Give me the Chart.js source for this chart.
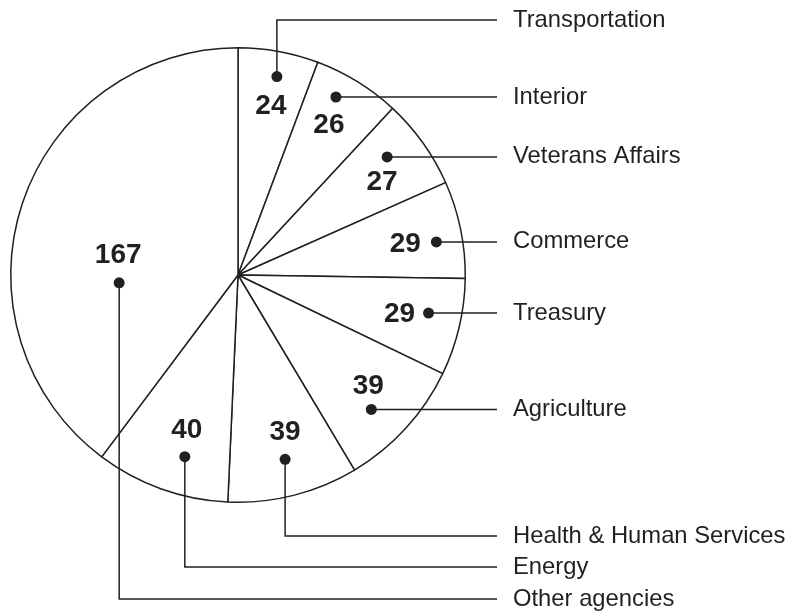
<!DOCTYPE html>
<html>
<head>
<meta charset="utf-8">
<script src="https://cdn.jsdelivr.net/npm/chart.js@4.4.0/dist/chart.umd.min.js"></script>
<style>
  html, body { margin: 0; padding: 0; background: #fff; }
</style>
</head>
<body>
<canvas id="chart" width="791" height="613"></canvas>
<script>
const agencies = [
  'Transportation', 'Interior', 'Veterans Affairs', 'Commerce', 'Treasury',
  'Agriculture', 'Health & Human Services', 'Energy', 'Other agencies'
];
const values = [24, 26, 27, 29, 29, 39, 39, 40, 167];

// callout layout: dot distance (fraction of radius), angle nudge in degrees,
// value text offset from the dot, and label row (null = same height as dot)
const dotRadius = [0.89, 0.894, 0.837, 0.885, 0.855, 0.833, 0.837, 0.833, 0.524];
const dotNudge = [0.8, -2.9, -2.8, 2.1, -2.0, 2.8, -0.2, -3.4, -22.2];
const valueDx = [-6, -7, -5, -31, -29, -3, 0, 2, -1];
const valueDy = [30, 28, 25, 2, 1, -23, -27, -26, -28];
const labelRow = [20, null, null, null, null, null, 536, 567, 599];

const ink = '#231f20';
const leaderEnd = 497;
const labelX = 513;

const callouts = {
  id: 'callouts',
  afterDatasetsDraw(chart) {
    const ctx = chart.ctx;
    const arcs = chart.getDatasetMeta(0).data;
    ctx.save();
    arcs.forEach((arc, i) => {
      const { x, y, startAngle, endAngle, outerRadius } = arc.getProps(
        ['x', 'y', 'startAngle', 'endAngle', 'outerRadius'], true);
      const a = (startAngle + endAngle) / 2 + dotNudge[i] * Math.PI / 180;
      const r = outerRadius * dotRadius[i];
      const dx = x + Math.cos(a) * r;
      const dy = y + Math.sin(a) * r;
      const row = labelRow[i] === null ? dy : labelRow[i];

      // leader line
      ctx.strokeStyle = ink;
      ctx.lineWidth = 1.5;
      ctx.beginPath();
      ctx.moveTo(dx, dy);
      if (row !== dy) ctx.lineTo(dx, row);
      ctx.lineTo(leaderEnd, row);
      ctx.stroke();

      // dot
      ctx.fillStyle = ink;
      ctx.beginPath();
      ctx.arc(dx, dy, 5.5, 0, Math.PI * 2);
      ctx.fill();

      // value
      ctx.font = 'bold 28px "Liberation Sans", Arial, sans-serif';
      ctx.textAlign = 'center';
      ctx.textBaseline = 'middle';
      ctx.fillText(String(values[i]), dx + valueDx[i], dy + valueDy[i]);

      // agency name
      ctx.font = '23.8px "Liberation Sans", Arial, sans-serif';
      ctx.textAlign = 'left';
      ctx.fillText(agencies[i], labelX, row);
    });
    ctx.restore();
  }
};

new Chart(document.getElementById('chart'), {
  type: 'pie',
  data: {
    labels: agencies,
    datasets: [{
      data: values,
      backgroundColor: '#ffffff',
      borderColor: ink,
      borderWidth: 1.5,
      hoverOffset: 0
    }]
  },
  options: {
    responsive: false,
    animation: false,
    events: [],
    layout: { padding: { left: 10, top: 47, right: 325, bottom: 110 } },
    plugins: {
      legend: { display: false },
      tooltip: { enabled: false }
    }
  },
  plugins: [callouts]
});
</script>
</body>
</html>
